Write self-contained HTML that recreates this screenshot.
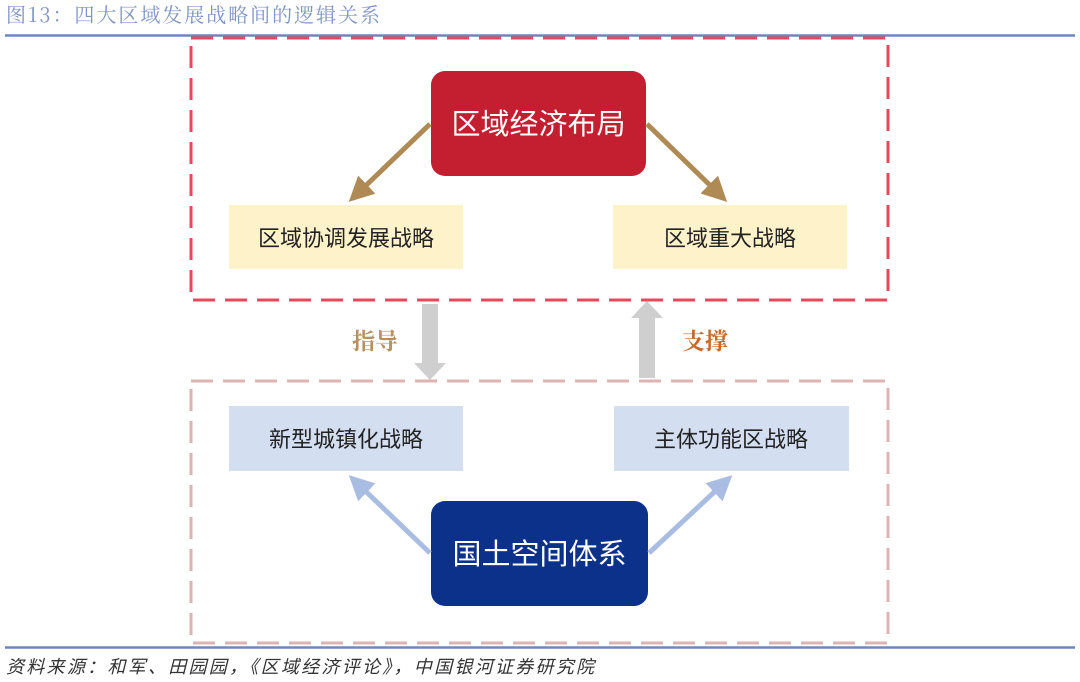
<!DOCTYPE html>
<html><head><meta charset="utf-8"><style>
html,body{margin:0;padding:0;background:#fff;}
svg{display:block;font-family:"Liberation Sans","Noto Sans CJK SC",sans-serif;}
</style></head><body>
<svg width="1080" height="682" viewBox="0 0 1080 682">
<defs>
<marker id="mb" markerWidth="5" markerHeight="5" refX="3" refY="2.5" orient="auto" markerUnits="strokeWidth"><path d="M0,0 L5,2.5 L0,5 z" fill="#b08a55"/></marker>
<marker id="ml" markerWidth="5" markerHeight="5" refX="3" refY="2.5" orient="auto" markerUnits="strokeWidth"><path d="M0,0 L5,2.5 L0,5 z" fill="#a9bde2"/></marker>
</defs>
<text x="6" y="22" font-size="20" fill="#7f95c4" font-family="'Noto Serif CJK SC',serif" textLength="374">图13：四大区域发展战略间的逻辑关系</text>
<line x1="5" y1="35.5" x2="1075" y2="35.5" stroke="#6d86bd" stroke-width="2.5"/>
<rect x="191" y="38" width="697" height="262" fill="none" stroke="#e8485a" stroke-width="3" stroke-dasharray="22,10"/>
<rect x="191" y="381" width="697" height="262" fill="none" stroke="#ddb3b3" stroke-width="3" stroke-dasharray="22,10"/>
<rect x="431" y="71" width="215" height="105" rx="14" fill="#c41e31"/>
<text x="538.5" y="134" font-size="29" fill="#fff" text-anchor="middle">区域经济布局</text>
<rect x="229" y="205" width="234" height="64" fill="#fdf2c9"/>
<text x="346" y="246" font-size="22" fill="#222" text-anchor="middle">区域协调发展战略</text>
<rect x="613" y="205" width="234" height="64" fill="#fdf2c9"/>
<text x="730" y="246" font-size="22" fill="#222" text-anchor="middle">区域重大战略</text>
<line x1="430" y1="124" x2="356" y2="195" stroke="#b08a55" stroke-width="5" marker-end="url(#mb)"/>
<line x1="647" y1="124" x2="720" y2="195" stroke="#b08a55" stroke-width="5" marker-end="url(#mb)"/>
<polygon points="422,304 438,304 438,363 446,363 430,380 414,363 422,363" fill="#d0cfcf"/>
<polygon points="639,378 655,378 655,318 663,318 647,301 631,318 639,318" fill="#d0cfcf"/>
<text x="375" y="349" font-size="23" fill="#b89060" text-anchor="middle" font-family="'Noto Serif CJK SC',serif" font-weight="bold">指导</text>
<text x="705" y="349" font-size="23" fill="#c8692a" text-anchor="middle" font-family="'Noto Serif CJK SC',serif" font-weight="bold">支撑</text>
<rect x="229" y="406" width="234" height="65" fill="#d3def0"/>
<text x="346" y="447" font-size="22" fill="#222" text-anchor="middle">新型城镇化战略</text>
<rect x="614" y="406" width="235" height="65" fill="#d3def0"/>
<text x="731" y="447" font-size="22" fill="#222" text-anchor="middle">主体功能区战略</text>
<rect x="431" y="501" width="217" height="105" rx="14" fill="#0c318a"/>
<text x="539.5" y="564" font-size="29" fill="#fff" text-anchor="middle">国土空间体系</text>
<line x1="430" y1="553" x2="356" y2="482" stroke="#a9bde2" stroke-width="5" marker-end="url(#ml)"/>
<line x1="649" y1="553" x2="725" y2="482" stroke="#a9bde2" stroke-width="5" marker-end="url(#ml)"/>
<line x1="5" y1="647.5" x2="1075" y2="647.5" stroke="#6d86bd" stroke-width="2.5"/>
<text x="6" y="673" font-size="18" fill="#333" font-style="italic" textLength="588">资料来源：和军、田园园，《区域经济评论》，中国银河证券研究院</text>
</svg>
</body></html>
